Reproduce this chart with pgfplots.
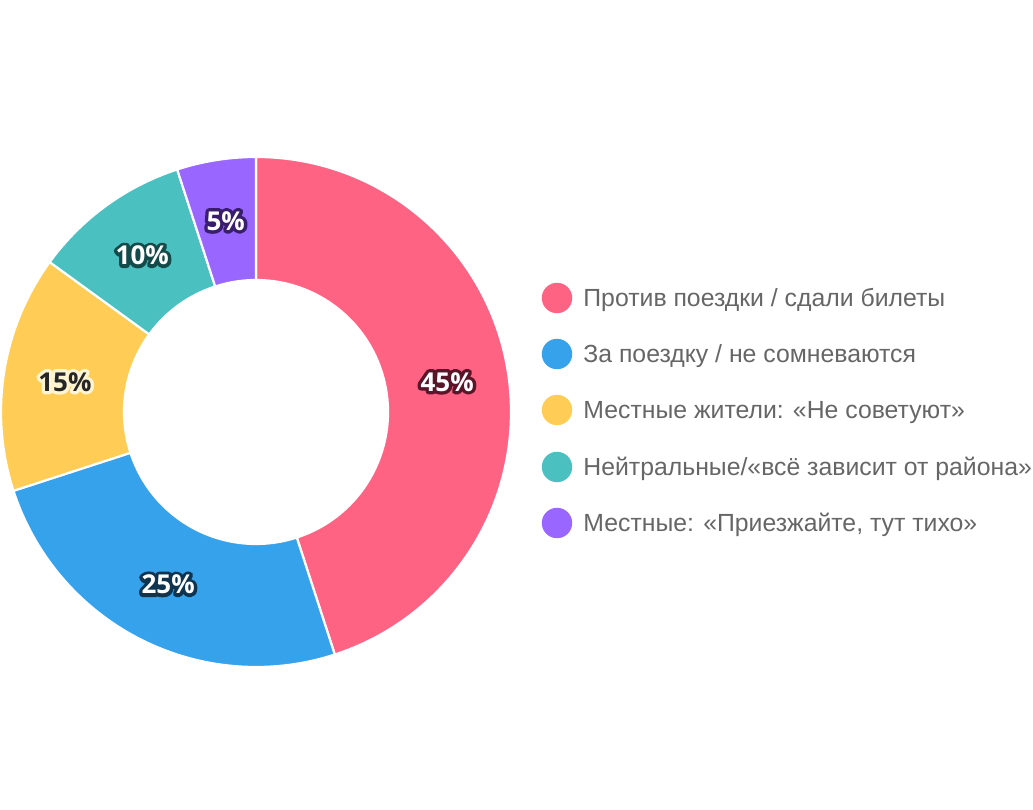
\documentclass[border=0pt]{standalone}
\usepackage{pgfplots}
\usepackage{pgfplotstable}
\pgfplotsset{compat=1.18}
\usepackage{fontspec}
\setmainfont{Liberation Sans}
\newfontfamily\labfont{Open Sans}
\definecolor{pieA}{HTML}{FF6384}
\definecolor{pieB}{HTML}{36A2EB}
\definecolor{pieC}{HTML}{FFCD56}
\definecolor{pieD}{HTML}{4BC0C0}
\definecolor{pieE}{HTML}{9966FF}
\definecolor{olA}{HTML}{5A1628}
\definecolor{olB}{HTML}{0E3450}
\definecolor{olC}{HTML}{FFF4D2}
\definecolor{olD}{HTML}{154A4A}
\definecolor{olE}{HTML}{3A1E6E}
\definecolor{legtext}{HTML}{666666}
\pgfplotstableread{
value
45
25
15
10
5
}\datatable
% centre and radii in pixel units of the reference
\def\cx{256}\def\cy{397}
\def\ro{255}\def\ri{132}\def\rm{193.5}
\newcommand\slice[3]{% start, end, colour
  \fill[#3,draw=white,line width=1.1pt]
    (axis cs:{\cx+\ro*cos(#1)},{\cy+\ro*sin(#1)})
    arc[start angle=#1,end angle=#2,radius=127.5pt]
    -- (axis cs:{\cx+\ri*cos(#2)},{\cy+\ri*sin(#2)})
    arc[start angle=#2,end angle=#1,radius=66pt] -- cycle;}
\newcommand\labfnt{\labfont\fontsize{13}{14}\selectfont\bfseries}
\newcommand\plabel[5]{% angle1, angle2, text, textcolour, outlinecolour
  \node[text=#5,font=\labfnt,inner sep=0pt]
      at (axis cs:{\cx+\rm*cos((#1+#2)/2)},{\cy+\rm*sin((#1+#2)/2)})
      {\special{pdf:code 2 Tr 3.4 w 1 j 1 J}#3};
  \node[text=#4,font=\labfnt,inner sep=0pt]
      at (axis cs:{\cx+\rm*cos((#1+#2)/2)},{\cy+\rm*sin((#1+#2)/2)}) {#3};}
\newcommand\legitem[3]{% y px, colour, text
  \fill[#2] (axis cs:557,{809-#1}) circle[radius=7.6pt];
  \node[anchor=base west,inner sep=0pt,text=legtext,font=\fontsize{12.4}{14}\selectfont]
    at (axis cs:583,{809-#1-8.5}) {#3};}
\begin{document}%
\pgfplotstablegetelem{0}{value}\of\datatable\let\vA\pgfplotsretval%
\pgfplotstablegetelem{1}{value}\of\datatable\let\vB\pgfplotsretval%
\pgfplotstablegetelem{2}{value}\of\datatable\let\vC\pgfplotsretval%
\pgfplotstablegetelem{3}{value}\of\datatable\let\vD\pgfplotsretval%
\pgfplotstablegetelem{4}{value}\of\datatable\let\vE\pgfplotsretval%
\pgfmathsetmacro\aA{90}%
\pgfmathsetmacro\aB{\aA-3.6*\vA}%
\pgfmathsetmacro\aC{\aB-3.6*\vB}%
\pgfmathsetmacro\aD{\aC-3.6*\vC}%
\pgfmathsetmacro\aE{\aD-3.6*\vD}%
\pgfmathsetmacro\aF{\aE-3.6*\vE}%
\begin{tikzpicture}
\begin{axis}[x=0.5pt,y=0.5pt,xmin=0,xmax=1033,ymin=0,ymax=809,
  hide axis,clip=false]
\coordinate (bl) at (axis cs:0,0);
\coordinate (tr) at (axis cs:1033,809);
\slice{\aA}{\aB}{pieA}
\slice{\aB}{\aC}{pieB}
\slice{\aC}{\aD}{pieC}
\slice{\aD}{\aE}{pieD}
\slice{\aE}{\aF}{pieE}
\plabel{\aA}{\aB}{45\%}{white}{olA}
\plabel{\aB}{\aC}{25\%}{white}{olB}
\plabel{\aC}{\aD}{15\%}{black!85}{olC}
\plabel{\aD}{\aE}{10\%}{white}{olD}
\plabel{\aE}{\aF}{5\%}{white}{olE}
\legitem{298}{pieA}{Против поездки / сдали билеты}
\legitem{354}{pieB}{За поездку / не сомневаются}
\legitem{410}{pieC}{Местные жители: «Не советуют»}
\legitem{467}{pieD}{Нейтральные/«всё зависит от района»}
\legitem{523}{pieE}{Местные: «Приезжайте, тут тихо»}
\end{axis}
\pgfresetboundingbox
\useasboundingbox (bl) rectangle (tr);
\end{tikzpicture}%
\end{document}
